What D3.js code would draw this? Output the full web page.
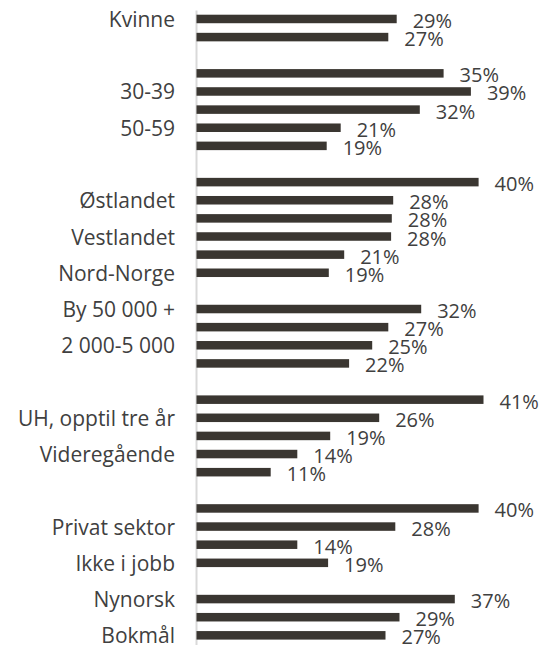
<!DOCTYPE html>
<html>
<head>
<meta charset="utf-8">
<script src="https://cdn.jsdelivr.net/npm/d3@7"></script>
<style>
  body { margin: 0; background: #fff; }
  text { font-family: "Open Sans", sans-serif; fill: #404040; }
</style>
</head>
<body>
<script>
// categories, top to bottom ("" = spacer row between groups)
const categories = [
  "Kvinne", "Mann", "",
  "Under 30", "30-39", "40-49", "50-59", "60 +", "",
  "Oslo", "Østlandet", "Sørlandet", "Vestlandet", "Trøndelag", "Nord-Norge", "",
  "By 50 000 +", "5 000-50 000", "2 000-5 000", "Under 2 000", "",
  "UH, over tre år", "UH, opptil tre år", "Fagskole", "Videregående", "Grunnskole", "",
  "Offentlig sektor", "Privat sektor", "Selvstendig", "Ikke i jobb", "",
  "Nynorsk", "Begge", "Bokmål"
];

const values = [
  0.286, 0.274, null,
  0.353, 0.392, 0.319, 0.206, 0.186, null,
  0.403, 0.281, 0.279, 0.278, 0.211, 0.189, null,
  0.321, 0.274, 0.251, 0.218, null,
  0.41, 0.261, 0.191, 0.144, 0.106, null,
  0.403, 0.284, 0.144, 0.188, null,
  0.369, 0.29, 0.27
];

const w = 543;
const h = 645;

const svg = d3.select("body")
  .append("svg")
  .attr("width", w)
  .attr("height", h);

const rows = d3.range(categories.length);

const yScale = d3.scaleBand()
  .domain(rows)
  .range([9.9, 644.4])
  .paddingInner(0.53)
  .paddingOuter(0.265);

const xScale = d3.scaleLinear()
  .domain([0, 0.45])
  .range([196.5, 511.5]);

// category axis, Excel only shows every other label
const yAxis = d3.axisLeft(yScale)
  .tickValues(rows.filter(i => i % 2 === 0))
  .tickFormat(i => categories[i])
  .tickSize(0)
  .tickSizeOuter(0)
  .tickPadding(21);

const axisG = svg.append("g")
  .attr("transform", "translate(196, 0)")
  .call(yAxis);

axisG.select(".domain")
  .attr("stroke", "#d9d9d9")
  .attr("stroke-width", 2);

axisG.selectAll(".tick text")
  .attr("font-size", "21px")
  .attr("fill", "#404040")
  .attr("dy", null)
  .attr("y", 8);

const data = rows.filter(i => values[i] != null);

svg.selectAll("rect.bar")
  .data(data)
  .enter()
  .append("rect")
  .attr("class", "bar")
  .attr("x", xScale(0))
  .attr("y", i => yScale(i))
  .attr("width", i => xScale(values[i]) - xScale(0))
  .attr("height", yScale.bandwidth())
  .attr("fill", "#3a3631");

// value labels
svg.selectAll("text.val")
  .data(data)
  .enter()
  .append("text")
  .attr("class", "val")
  .attr("x", i => xScale(values[i]) + 16)
  .attr("y", i => yScale(i) + yScale.bandwidth() / 2 + 9)
  .attr("font-size", "20px")
  .text(i => d3.format(".0%")(values[i]));
</script>
</body>
</html>
